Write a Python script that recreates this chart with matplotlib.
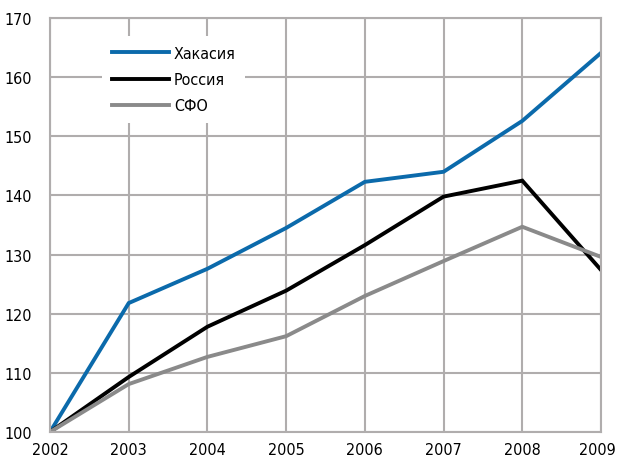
import matplotlib
matplotlib.use('Agg')
import matplotlib.pyplot as plt
from matplotlib.transforms import ScaledTranslation

plt.rcParams['font.family'] = ['DejaVu Sans']
plt.rcParams['font.stretch'] = 'condensed'

years = [2002, 2003, 2004, 2005, 2006, 2007, 2008, 2009]
khakasia = [100.0, 121.8, 127.6, 134.5, 142.3, 144.0, 152.6, 164.1]
russia = [100.0, 109.3, 117.8, 123.9, 131.6, 139.8, 142.5, 127.4]
sfo = [100.0, 108.1, 112.7, 116.2, 123.0, 128.9, 134.7, 129.6]

GRID = '#b0adad'

fig = plt.figure(figsize=(6.17, 4.6), dpi=100)
ax = fig.add_axes([50/617, 27/460, 551/617, 414/460])

ax.plot(years, khakasia, color='#0b6aab', lw=2.8, label='Хакасия', solid_joinstyle='miter')
ax.plot(years, russia, color='black', lw=2.8, label='Россия', solid_joinstyle='miter')
ax.plot(years, sfo, color='#8a8a8a', lw=2.8, label='СФО', solid_joinstyle='miter')

ax.set_xlim(2002, 2009)
ax.set_ylim(100, 170)
ax.set_xticks(years)
ax.set_yticks(range(100, 171, 10))
ax.grid(True, color=GRID, lw=1.5)
ax.set_axisbelow(True)
for s in ax.spines.values():
    s.set_color(GRID)
    s.set_linewidth(1.5)
ax.tick_params(length=0, labelsize=11.5, colors='black')
ax.tick_params(axis='y', pad=13)
ax.tick_params(axis='x', pad=7)

# keep the last year label inside the picture
last = ax.get_xticklabels()[-1]
last.set_transform(last.get_transform() + ScaledTranslation(-4/100, 0, fig.dpi_scale_trans))

leg = ax.legend(loc='upper left', bbox_to_anchor=(0.08, 0.975), frameon=True,
                fancybox=False, edgecolor='none', facecolor='white', framealpha=1,
                fontsize=11.5, handlelength=3.6, handletextpad=0.3, labelspacing=0.7,
                borderpad=0.6)

fig.savefig('out.png', dpi=100)
